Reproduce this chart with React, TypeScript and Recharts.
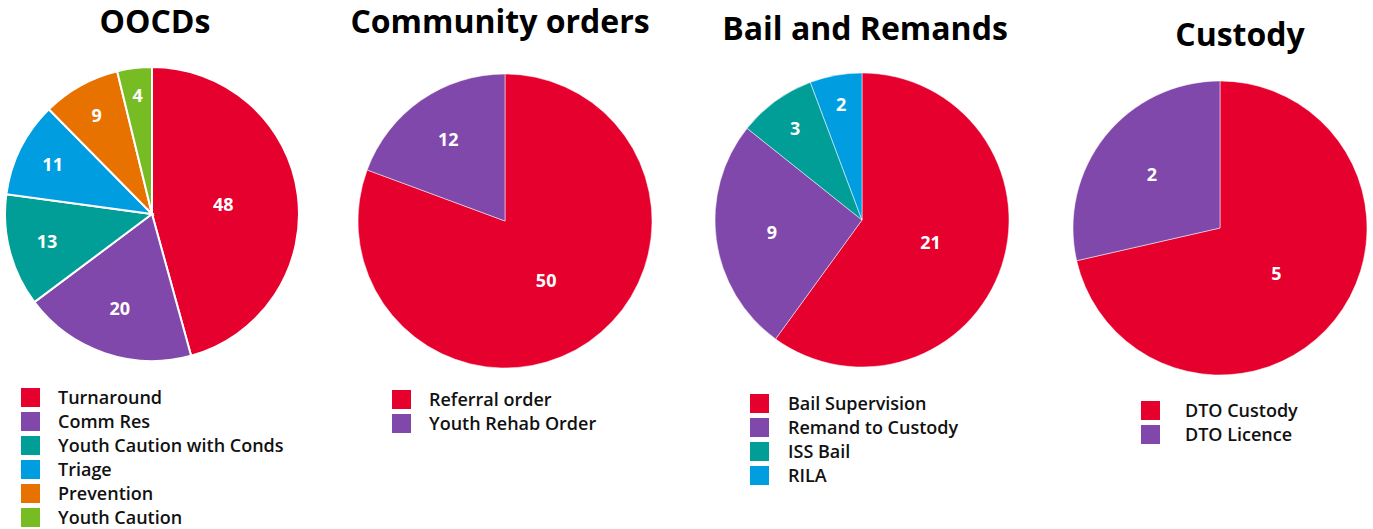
import React from "react";
import { PieChart, Pie, Cell } from "recharts";

// colours shared by all four panels
const RED = "#E6002D";
const PURPLE = "#8148AB";
const TEAL = "#009E96";
const BLUE = "#009EE0";
const ORANGE = "#E87200";
const GREEN = "#78BC24";

const oocdNames = ["Turnaround", "Comm Res", "Youth Caution with Conds", "Triage", "Prevention", "Youth Caution"];
const oocdValues = [48, 20, 13, 11, 9, 4];
const oocdColors = [RED, PURPLE, TEAL, BLUE, ORANGE, GREEN];

const communityNames = ["Referral order", "Youth Rehab Order"];
const communityValues = [50, 12];
const communityColors = [RED, PURPLE];

const bailNames = ["Bail Supervision", "Remand to Custody", "ISS Bail", "RILA"];
const bailValues = [21, 9, 3, 2];
const bailColors = [RED, PURPLE, TEAL, BLUE];

const custodyNames = ["DTO Custody", "DTO Licence"];
const custodyValues = [5, 2];
const custodyColors = [RED, PURPLE];

const FONT = "'Open Sans', Lato, sans-serif";
const RADIAN = Math.PI / 180;

const renderLabel = (props: any) => {
  const { cx, cy, midAngle, outerRadius, percent, value } = props;
  // small slices get their number pushed further out, like the original
  const ratio = Math.max(0.49, 0.85 - 0.9 * percent);
  const r = outerRadius * ratio;
  const x = cx + r * Math.cos(-midAngle * RADIAN);
  const y = cy + r * Math.sin(-midAngle * RADIAN);
  return (
    <text
      x={x}
      y={y}
      fill="#fff"
      textAnchor="middle"
      dominantBaseline="central"
      fontSize={18}
      fontWeight={700}
      fontFamily={FONT}
    >
      {value}
    </text>
  );
};

interface PanelProps {
  title: string;
  names: string[];
  values: number[];
  colors: string[];
  left: number;
  width: number;
  cx: number;
  cy: number;
  titleX: number;
  titleTop: number;
  legendX: number;
  legendTop: number;
  legendGap: number;
  stroke: number;
}

function Panel(p: PanelProps) {
  const data = p.names.map((name, i) => ({ name, value: p.values[i] }));
  return (
    <>
      <div
        style={{
          position: "absolute",
          left: p.titleX - 250,
          top: p.titleTop,
          width: 500,
          textAlign: "center",
          fontFamily: FONT,
          fontWeight: 700,
          fontSize: 32,
          lineHeight: 1,
          color: "#000",
          whiteSpace: "nowrap",
        }}
      >
        {p.title}
      </div>
      <div style={{ position: "absolute", left: p.left, top: 0 }}>
        <PieChart width={p.width} height={380} margin={{ top: 0, right: 0, bottom: 0, left: 0 }}>
          <Pie
            data={data}
            dataKey="value"
            nameKey="name"
            cx={p.cx}
            cy={p.cy}
            outerRadius={147}
            startAngle={90}
            endAngle={-270}
            stroke="#fff"
            strokeWidth={p.stroke}
            label={renderLabel}
            labelLine={false}
            isAnimationActive={false}
          >
            {data.map((d, i) => (
              <Cell key={d.name} fill={p.colors[i]} />
            ))}
          </Pie>
        </PieChart>
      </div>
      <div style={{ position: "absolute", left: p.legendX, top: p.legendTop, fontFamily: FONT }}>
        {p.names.map((name, i) => (
          <div
            key={name}
            style={{ display: "flex", alignItems: "center", height: 24, fontSize: 18, fontWeight: 600, color: "#111" }}
          >
            <span
              style={{ display: "inline-block", width: 19, height: 19, background: p.colors[i], marginRight: p.legendGap }}
            />
            <span>{name}</span>
          </div>
        ))}
      </div>
    </>
  );
}

export default function App() {
  return (
    <div style={{ position: "absolute", left: 0, top: 0, width: 1373, height: 529, background: "#fff", overflow: "hidden" }}>
      <Panel
        title="OOCDs"
        names={oocdNames}
        values={oocdValues}
        colors={oocdColors}
        left={0}
        width={330}
        cx={152}
        cy={214}
        titleX={155}
        titleTop={5}
        legendX={21}
        legendTop={385}
        legendGap={18}
        stroke={2}
      />
      <Panel
        title="Community orders"
        names={communityNames}
        values={communityValues}
        colors={communityColors}
        left={330}
        width={350}
        cx={175}
        cy={221}
        titleX={500}
        titleTop={5}
        legendX={392}
        legendTop={387}
        legendGap={18}
        stroke={0.5}
      />
      <Panel
        title="Bail and Remands"
        names={bailNames}
        values={bailValues}
        colors={bailColors}
        left={690}
        width={340}
        cx={172}
        cy={220}
        titleX={865}
        titleTop={12}
        legendX={750}
        legendTop={391}
        legendGap={19}
        stroke={0.5}
      />
      <Panel
        title="Custody"
        names={custodyNames}
        values={custodyValues}
        colors={custodyColors}
        left={1040}
        width={333}
        cx={180}
        cy={228}
        titleX={1240}
        titleTop={18}
        legendX={1141}
        legendTop={398}
        legendGap={25}
        stroke={0.5}
      />
    </div>
  );
}
